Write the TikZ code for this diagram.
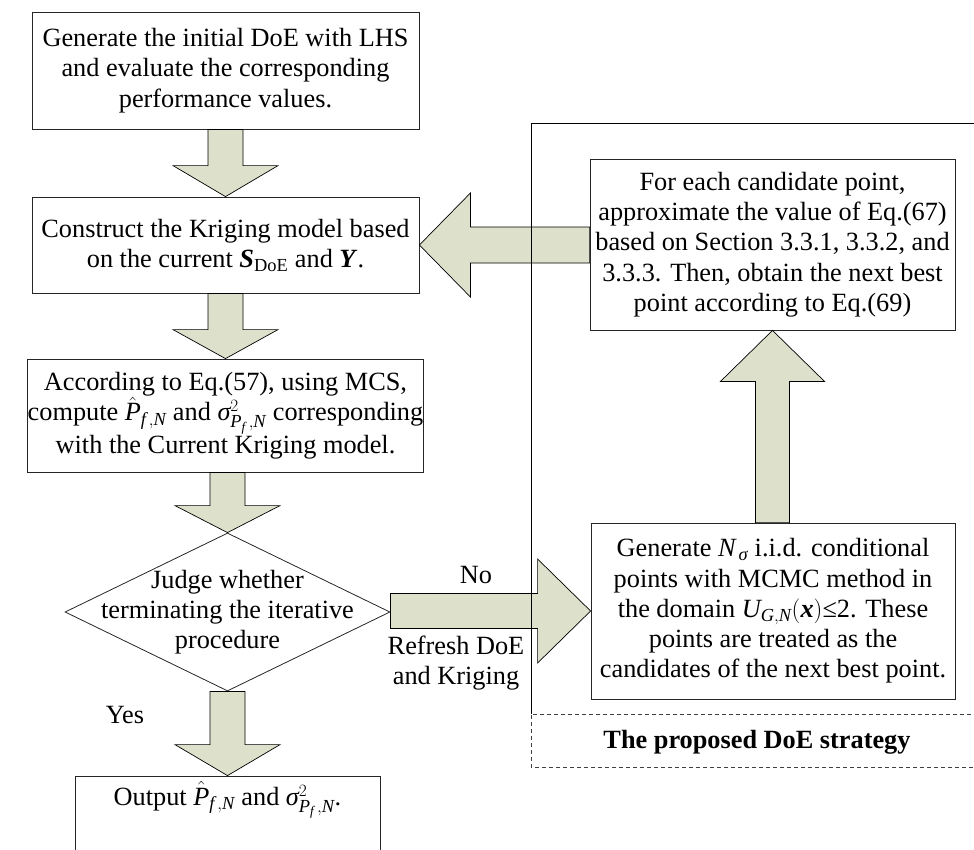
\documentclass[tikz,border=0pt]{standalone}
\usepackage{amsmath}
\usepackage{fontspec}
\setmainfont{Liberation Serif}
\usetikzlibrary{shapes.geometric,calc}
\definecolor{arrowfill}{RGB}{221,225,203}
\newcommand{\myit}[1]{\textit{#1}}
\newcommand{\mybi}[1]{\textbf{\textit{#1}}}
\newcommand{\phat}{\hat{\myit{P}}_{\myit{f}\,,\myit{N}}}
\newcommand{\sigsq}{\myit{σ}^{2}_{\myit{P}_{\myit{f}}\,,\myit{N}}}
\begin{document}
\begin{tikzpicture}[x=1pt,y=-1pt,
  font=\fontsize{26.3}{30.3}\selectfont,
  box/.style={draw=black!85, line width=0.8pt, rectangle, inner sep=0pt, align=center},
  blockarrow/.style={draw=black, line width=0.7pt, fill=arrowfill, line join=miter},
  region/.style={draw=black, line width=0.8pt},
  regiondash/.style={draw=black!75, line width=0.8pt, dash pattern=on 4pt off 3pt},
  lbl/.style={align=center, inner sep=0pt}]
\clip (0,0) rectangle (974,849);

% boxes
\node[box, minimum width=387pt, minimum height=117pt] (init) at (225.5,70.5)
  {Generate the initial DoE with LHS\\and evaluate the corresponding\\performance values.};
\node[box, minimum width=387pt, minimum height=96pt] (kriging) at (225.5,245)
  {Construct the Kriging model based\\on the current $\mybi{S}_{\mathrm{DoE}}$ and $\mybi{Y}$.};
\node[box, minimum width=387pt, minimum height=113pt] (mcs) at (225.5,415.5)
  {According to Eq.(57), using MCS,\\compute $\phat$ and $\sigsq$ corresponding\\with the Current Kriging model.};
\node[diamond, draw=black!85, line width=0.8pt, inner sep=0pt, minimum width=325pt, minimum height=158pt] (judge) at (227.5,612) {};
\node[lbl] (judgetxt) at (judge.center) {Judge whether\\terminating the iterative\\procedure};
\node[box, minimum width=305pt, minimum height=80pt] (out) at (227.5,816) {};
\node[lbl] (outtxt) at (227.5,800) {Output $\phat$ and $\sigsq$.};
\node[box, minimum width=365pt, minimum height=171pt] (select) at (772.5,244.5)
  {For each candidate point,\\approximate the value of Eq.(67)\\based on Section 3.3.1, 3.3.2, and\\3.3.3. Then, obtain the next best\\point according to Eq.(69)};
\node[box, minimum width=364pt, minimum height=176pt] (gen) at (773,611)
  {Generate $\myit{N}_{\,\myit{σ}}$ i.i.d. conditional\\points with MCMC method in\\the domain $\myit{U}_{\myit{G},\myit{N}}(\mybi{x})$≤2. These\\points are treated as the\\candidates of the next best point.};

% block arrows (down)
\draw[blockarrow] ($(kriging.north |- init.south)+(-17.5,0)$) -- ($(kriging.north)+(-17.5,-31)$) -- ($(kriging.north)+(-52.5,-31)$) -- (kriging.north) -- ($(kriging.north)+(52.5,-31)$) -- ($(kriging.north)+(17.5,-31)$) -- ($(kriging.north |- init.south)+(17.5,0)$) -- cycle;
\draw[blockarrow] ($(mcs.north |- kriging.south)+(-17.5,0)$) -- ($(mcs.north)+(-17.5,-29)$) -- ($(mcs.north)+(-52.5,-29)$) -- (mcs.north) -- ($(mcs.north)+(52.5,-29)$) -- ($(mcs.north)+(17.5,-29)$) -- ($(mcs.north |- kriging.south)+(17.5,0)$) -- cycle;
\draw[blockarrow] ($(judge.north |- mcs.south)+(-17.5,0)$) -- ($(judge.north)+(-17.5,-27)$) -- ($(judge.north)+(-52.5,-27)$) -- (judge.north) -- ($(judge.north)+(52.5,-27)$) -- ($(judge.north)+(17.5,-27)$) -- ($(judge.north |- mcs.south)+(17.5,0)$) -- cycle;
\draw[blockarrow] ($(out.north |- judge.south)+(-17.5,0)$) -- ($(out.north)+(-17.5,-31)$) -- ($(out.north)+(-52.5,-31)$) -- (out.north) -- ($(out.north)+(52.5,-31)$) -- ($(out.north)+(17.5,-31)$) -- ($(out.north |- judge.south)+(17.5,0)$) -- cycle;
% right arrow (No)
\draw[blockarrow] ($(judge.east |- gen.west)+(0,-17.5)$) -- ($(gen.west)+(-53,-17.5)$) -- ($(gen.west)+(-53,-52)$) -- (gen.west) -- ($(gen.west)+(-53,52)$) -- ($(gen.west)+(-53,17.5)$) -- ($(judge.east |- gen.west)+(0,17.5)$) -- cycle;
% up arrow
\draw[blockarrow] ($(select.south |- gen.north)+(-17,0)$) -- ($(select.south)+(-17,51)$) -- ($(select.south)+(-52,51)$) -- (select.south) -- ($(select.south)+(52,51)$) -- ($(select.south)+(17,51)$) -- ($(select.south |- gen.north)+(17,0)$) -- cycle;
% left arrow
\draw[blockarrow] ($(select.west |- kriging.east)+(0,-18)$) -- ($(kriging.east)+(51,-18)$) -- ($(kriging.east)+(51,-52)$) -- (kriging.east) -- ($(kriging.east)+(51,52)$) -- ($(kriging.east)+(51,18)$) -- ($(select.west |- kriging.east)+(0,18)$) -- cycle;

% labels
\node[lbl] (no) at (476,575) {No};
\node[lbl] (refresh) at (456,663) {Refresh DoE\\and Kriging};
\node[lbl] (yes) at (125,715) {Yes};

% region of the proposed strategy
\coordinate (regtl) at (531,123);
\coordinate (regtr) at (985,123);
\coordinate (regml) at (531,714);
\coordinate (regmr) at (985,714);
\coordinate (regbl) at (531,767);
\coordinate (regbr) at (985,767);
\draw[region] (regtr) -- (regtl) -- (regml);
\draw[regiondash] (regmr) -- (regml) -- (regbl) -- (regbr);
\node[lbl] (strategy) at (757,742) {\textbf{The proposed DoE strategy}};
\end{tikzpicture}
\end{document}
